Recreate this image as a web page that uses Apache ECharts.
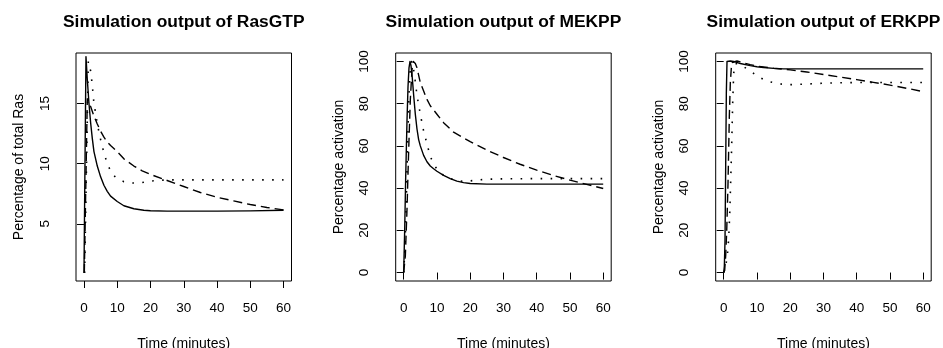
<!DOCTYPE html>
<html>
<head>
<meta charset="utf-8">
<script src="https://cdn.jsdelivr.net/npm/echarts@6/dist/echarts.min.js"></script>
<style>
html,body{margin:0;padding:0;background:#fff;}
#c{width:943px;height:348px;}
</style>
</head>
<body>
<div id="c"></div>
<script>
// ---------- data ----------
const titles = ["Simulation output of RasGTP", "Simulation output of MEKPP", "Simulation output of ERKPP"];
const yNames = ["Percentage of total Ras", "Percentage activation", "Percentage activation"];
const xName = "Time (minutes)";
const xTicks = [0, 10, 20, 30, 40, 50, 60];
const yTicksRas = [5, 10, 15];
const yTicksPct = [0, 20, 40, 60, 80, 100];

// RasGTP
const rasSolidT = [0, 0.6, 1, 1.5, 2, 2.5, 3, 4, 5, 6, 7, 8, 10, 12, 15, 18, 20, 25, 30, 40, 50, 60];
const rasSolid  = [0.9, 18.9, 17.0, 15.0, 13.4, 12.1, 11.0, 9.8, 8.9, 8.2, 7.7, 7.3, 6.85, 6.5, 6.25, 6.12, 6.08, 6.05, 6.05, 6.05, 6.07, 6.12];
const rasDashT  = [0.1, 1.0, 2, 3, 4, 5, 6, 7, 8, 10, 12, 15, 17.5, 20, 25, 30, 35, 40, 45, 50, 55, 60];
const rasDash   = [0.9, 15.4, 14.75, 13.95, 13.3, 12.7, 12.2, 11.8, 11.5, 11.0, 10.4, 9.8, 9.4, 9.1, 8.6, 8.1, 7.6, 7.2, 6.9, 6.6, 6.35, 6.15];
const rasDotT   = [0.2, 1.3, 2, 2.5, 3, 3.5, 4, 5, 6, 7, 8, 9, 10, 12, 14, 16, 18, 20, 23, 26, 30, 40, 50, 60];
const rasDot    = [0.9, 18.5, 17.7, 16.5, 15.0, 14.2, 13.3, 12.0, 10.9, 10.0, 9.4, 9.0, 8.75, 8.5, 8.4, 8.38, 8.45, 8.55, 8.62, 8.65, 8.65, 8.65, 8.65, 8.65];

// MEKPP
const mekSolidT = [0, 0.3, 0.6, 1, 1.3, 1.6, 1.9, 2.2, 2.6, 3, 3.5, 4, 4.5, 5, 6, 7, 8, 9, 10, 12, 14, 16, 18, 20, 25, 30, 40, 50, 60];
const mekSolid  = [0, 20, 45, 72, 88, 97, 100, 98, 92, 84, 75, 68, 63, 60, 55.5, 52.5, 50.5, 49.2, 48, 46, 44.5, 43.3, 42.6, 42.2, 41.9, 41.9, 41.9, 41.9, 41.9];
const mekDashT  = [0, 0.5, 1, 1.5, 2, 2.5, 2.9, 3.5, 4, 5, 6, 7, 8, 10, 12, 15, 20, 25, 30, 35, 40, 45, 50, 55, 60];
const mekDash   = [0, 8, 30, 58, 82, 96, 100, 99, 97, 90, 86, 82, 79, 75, 71, 66.5, 62, 58, 54.5, 51.3, 48.5, 46, 43.8, 41.8, 39.8];
const mekDotT   = [0, 0.4, 0.8, 1.2, 1.6, 2, 2.4, 2.8, 3.2, 3.6, 4, 5, 6, 7, 8, 9, 10, 12, 14, 16, 18, 20, 22, 25, 30, 40, 50, 60];
const mekDot    = [0, 12, 35, 62, 85, 97, 100, 98, 94, 89, 84, 75, 67, 61, 55, 51.5, 49, 46, 44.5, 43.6, 43.2, 43.4, 43.8, 44.2, 44.4, 44.5, 44.5, 44.5];

// ERKPP
const erkSolidT = [0, 0.2, 0.4, 0.6, 0.8, 1, 2, 3, 5, 8, 10, 12, 15, 18, 20, 25, 30, 40, 50, 60];
const erkSolid  = [0, 3, 15, 50, 85, 100, 100.2, 100, 99, 98, 97.5, 97.1, 96.7, 96.5, 96.5, 96.5, 96.5, 96.5, 96.5, 96.5];
const erkDashT  = [0, 0.3, 0.6, 0.9, 1.3, 1.7, 2.0, 2.3, 2.6, 3, 4, 6, 8, 10, 15, 20, 25, 30, 35, 40, 45, 50, 55, 60];
const erkDash   = [0, 1, 8, 19, 42, 74, 90, 97, 99.5, 100.3, 100.2, 99.3, 98.5, 97.8, 96.8, 96, 95, 93.8, 92.6, 91.4, 90.1, 88.8, 87.3, 85.7];
const erkDotT   = [0, 0.5, 1.1, 1.5, 1.8, 2.1, 2.4, 2.7, 3.0, 3.3, 4, 5, 6, 8, 10, 12, 14, 17, 20, 25, 30, 35, 40, 50, 60];
const erkDot    = [0, 2, 8, 16, 27, 43, 60, 80, 94, 98.7, 99, 98.5, 97.5, 95.5, 93.2, 91.5, 90.3, 89.3, 89.0, 89.3, 89.7, 89.9, 90, 90, 90];

// ---------- chart ----------
const FONT = '"Liberation Sans", Arial, Helvetica, sans-serif';
const gridLefts = [76, 395.7, 715.7];
const gridW = 215.5, gridTop = 53, gridH = 228;

function pairs(t, v) { return t.map((x, i) => [x, v[i]]); }

const panels = [
  { y: [0.24, 19.2], yt: yTicksRas, s: [[rasSolidT, rasSolid], [rasDashT, rasDash], [rasDotT, rasDot]] },
  { y: [-4, 104], yt: yTicksPct, s: [[mekSolidT, mekSolid], [mekDashT, mekDash], [mekDotT, mekDot]] },
  { y: [-4, 104], yt: yTicksPct, s: [[erkSolidT, erkSolid], [erkDashT, erkDash], [erkDotT, erkDot]] }
];
const styles = [
  { type: 'solid', width: 1.4 },
  { type: [9, 5], width: 1.4 },
  { type: [1.6, 8.4], width: 1.6 }
];

const option = {
  backgroundColor: '#fff',
  animation: false,
  textStyle: { fontFamily: FONT },
  title: titles.map((t, i) => ({
    text: t, left: gridLefts[i] + gridW / 2, top: 13.5, textAlign: 'center', padding: 0,
    textStyle: { fontFamily: FONT, fontWeight: 'bold', fontSize: 17.4, color: '#000' }
  })),
  grid: gridLefts.map(l => ({
    left: l, top: gridTop, width: gridW, height: gridH,
    outerBoundsMode: 'none', containLabel: false,
    show: true, borderColor: '#000', borderWidth: 1, backgroundColor: 'transparent'
  })),
  xAxis: gridLefts.map((l, i) => ({
    type: 'value', gridIndex: i, min: -2.4, max: 62.4,
    name: xName, nameLocation: 'middle', nameGap: 56,
    nameTextStyle: { fontFamily: FONT, fontSize: 14, color: '#000' },
    axisLine: { show: false },
    axisTick: { show: true, length: 7, customValues: xTicks, lineStyle: { color: '#000', width: 1 } },
    axisLabel: { customValues: xTicks, margin: 20.5, fontFamily: FONT, fontSize: 13.5, color: '#000' },
    splitLine: { show: false }
  })),
  yAxis: panels.map((p, i) => ({
    type: 'value', gridIndex: i, min: p.y[0], max: p.y[1],
    name: yNames[i], nameLocation: 'middle', nameGap: 50,
    nameTextStyle: { fontFamily: FONT, fontSize: 14, color: '#000' },
    axisLine: { show: false },
    axisTick: { show: true, length: 7, customValues: p.yt, lineStyle: { color: '#000', width: 1 } },
    axisLabel: { customValues: p.yt, rotate: 90, margin: 24, fontFamily: FONT, fontSize: 13.5, color: '#000' },
    splitLine: { show: false }
  })),
  series: []
};

panels.forEach((p, i) => {
  p.s.forEach((sv, k) => {
    option.series.push({
      type: 'line', xAxisIndex: i, yAxisIndex: i,
      data: pairs(sv[0], sv[1]),
      showSymbol: false, symbol: 'none', smooth: false, clip: true,
      lineStyle: { color: '#000', width: styles[k].width, type: styles[k].type, cap: 'butt', join: 'round' }
    });
  });
});

const chart = echarts.init(document.getElementById('c'), null, { renderer: 'canvas' });
chart.setOption(option);
</script>
</body>
</html>
